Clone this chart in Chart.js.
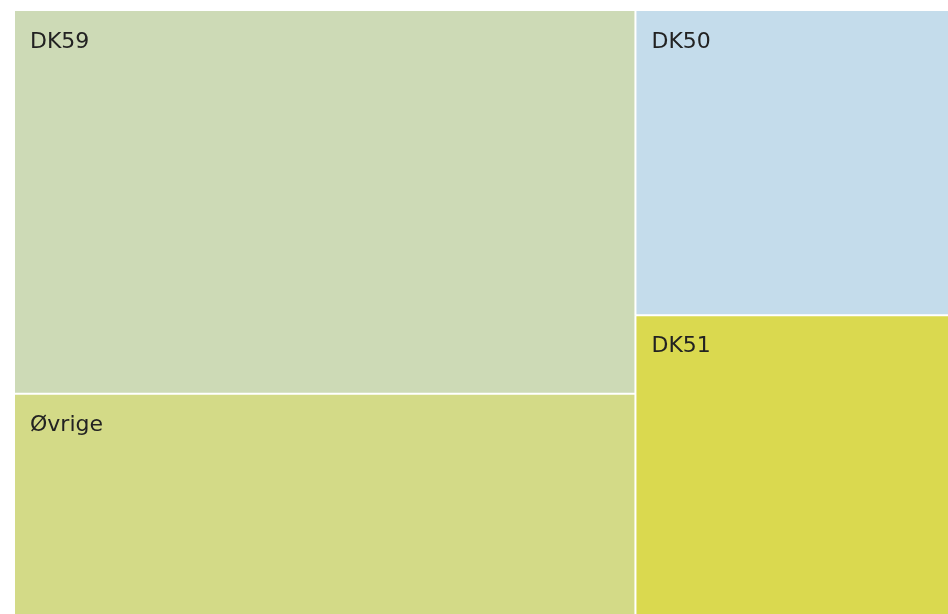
<!DOCTYPE html>
<html>
<head>
<meta charset="utf-8">
<script src="https://cdn.jsdelivr.net/npm/chart.js@4.4.1/dist/chart.umd.min.js"></script>
<style>
    html, body { margin: 0; padding: 0; background: #ffffff; }
    canvas { display: block; }
</style>
</head>
<body>
<canvas id="treemap" width="948" height="614"></canvas>
<script>
/* Treemap : share by region */
const labels = ["DK59", "Øvrige", "DK50", "DK51"];
const values = [42.2, 24.3, 16.9, 16.6];
const colors = ["#cddab6", "#d3da87", "#c4dceb", "#dad94f"];

// cells are stacked two per column, columns laid out left to right
function layout() {
    const total = values.reduce((a, b) => a + b, 0);
    const cells = [];
    let x0 = 0;
    for (let i = 0; i < values.length; i += 2) {
        const group = values.slice(i, i + 2);
        const groupSum = group.reduce((a, b) => a + b, 0);
        const w = groupSum / total * 100;
        let y0 = 0;
        group.forEach((v, j) => {
            const h = v / groupSum * 100;
            cells.push({ index: i + j, x0: x0, x1: x0 + w, y0: y0, y1: y0 + h });
            y0 += h;
        });
        x0 += w;
    }
    return cells;
}

const treemapPlugin = {
    id: "treemapCells",
    afterDatasetsDraw: function (chart) {
        const ctx = chart.ctx;
        const xs = chart.scales.x;
        const ys = chart.scales.y;
        const area = chart.chartArea;
        const cells = layout();

        ctx.save();
        cells.forEach(c => {
            const left = xs.getPixelForValue(c.x0);
            const right = xs.getPixelForValue(c.x1);
            const top = ys.getPixelForValue(c.y0);
            const bottom = ys.getPixelForValue(c.y1);
            c.px = { left, right, top, bottom };
            ctx.fillStyle = colors[c.index];
            ctx.fillRect(left, top, right - left, bottom - top);
        });

        // white separators between neighbouring cells
        ctx.strokeStyle = "#ffffff";
        ctx.lineWidth = 2;
        cells.forEach(c => {
            const p = c.px;
            ctx.beginPath();
            if (p.left > area.left + 1) {
                ctx.moveTo(p.left, p.top);
                ctx.lineTo(p.left, p.bottom);
            }
            if (p.top > area.top + 1) {
                ctx.moveTo(p.left, p.top);
                ctx.lineTo(p.right, p.top);
            }
            ctx.stroke();
        });

        ctx.fillStyle = "#222222";
        ctx.font = "22px 'DejaVu Sans', Verdana, sans-serif";
        ctx.textAlign = "left";
        ctx.textBaseline = "alphabetic";
        cells.forEach(c => {
            const p = c.px;
            const dx = p.left > area.left + 1 ? 16 : 15;
            ctx.fillText(labels[c.index], p.left + dx, p.top + 37);
        });
        ctx.restore();
    }
};

new Chart(document.getElementById("treemap").getContext("2d"), {
    type: "scatter",
    data: {
        labels: labels,
        datasets: [{
            data: [],
        }],
    },
    options: {
        responsive: false,
        animation: false,
        layout: {
            padding: { left: 15, top: 11, right: 0, bottom: 0 }
        },
        plugins: {
            legend: { display: false },
            tooltip: { enabled: false },
        },
        scales: {
            x: { type: "linear", min: 0, max: 100, display: false },
            y: { type: "linear", min: 0, max: 100, reverse: true, display: false },
        },
    },
    plugins: [treemapPlugin],
});
</script>
</body>
</html>
